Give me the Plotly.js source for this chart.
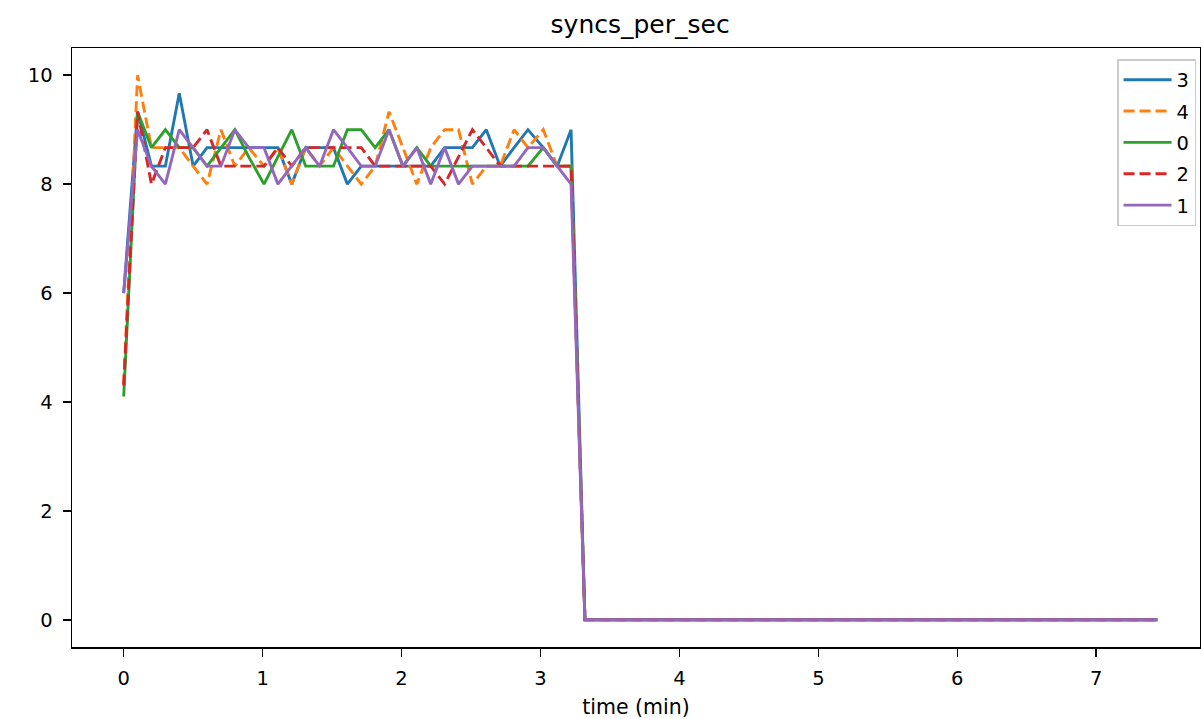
<!DOCTYPE html>
<html>
<head>
<meta charset="utf-8">
<script src="https://cdn.plot.ly/plotly-3.0.1.min.js"></script>
<style>html,body{margin:0;padding:0;background:#fff;}#chart{width:1201px;height:719px;}</style>
</head>
<body>
<div id="chart"></div>
<script>
// sample times (minutes)
const times = [0.00,0.10,0.20,0.30,0.40,0.50,0.60,0.70,0.80,0.90,1.01,1.11,1.21,1.31,1.41,1.51,1.61,1.71,1.81,1.91,
  2.01,2.11,2.21,2.31,2.41,2.51,2.61,2.71,2.81,2.91,3.02,3.12,3.22,3.32,3.42,3.52,3.62,3.72,3.82,3.92,
  4.02,4.12,4.22,4.32,4.42,4.52,4.62,4.72,4.82,4.92,5.03,5.13,5.23,5.33,5.43,5.53,5.63,5.73,5.83,5.93,
  6.03,6.13,6.23,6.33,6.43,6.53,6.63,6.73,6.83,6.93,7.04,7.14,7.24,7.34,7.44];

const series3 = [6,9.33,8.33,8.33,9.67,8.33,8.67,8.67,8.67,8.67,8.67,8.67,8,8.67,8.67,8.67,8,8.33,8.33,8.33,
  8.33,8.33,8.33,8.67,8.67,8.67,9,8.33,8.67,9,8.67,8.33,9,
  0,0,0,0,0,0,0,0,0,0,0,0,0,0,0,0,0,0,0,0,0,0,0,0,0,0,0,0,0,0,0,0,0,0,0,0,0,0,0,0,0,0];
const series4 = [4.33,10,8.67,8.67,8.67,8.33,8,9,8.33,8.67,8.33,8.67,8,8.67,8.33,8.67,8.33,8,8.33,9.33,
  8.67,8,8.67,9,9,8,8.33,8.33,9,8.67,9,8.33,8.33,
  0,0,0,0,0,0,0,0,0,0,0,0,0,0,0,0,0,0,0,0,0,0,0,0,0,0,0,0,0,0,0,0,0,0,0,0,0,0,0,0,0,0];
const series0 = [4.1,9.33,8.67,9,8.67,8.67,8.33,8.67,9,8.5,8,8.5,9,8.33,8.33,8.33,9,9,8.67,9,
  8.33,8.67,8.33,8.33,8.33,8.33,8.33,8.33,8.33,8.33,8.67,8.33,8.33,
  0,0,0,0,0,0,0,0,0,0,0,0,0,0,0,0,0,0,0,0,0,0,0,0,0,0,0,0,0,0,0,0,0,0,0,0,0,0,0,0,0,0];
const series2 = [4.3,9.33,8,8.67,8.67,8.67,9,8.33,8.33,8.33,8.33,8.67,8.33,8.67,8.67,8.67,8.67,8.67,8.33,8.33,
  8.33,8.33,8.33,8,8.5,9,8.67,8.33,8.33,8.33,8.33,8.33,8.33,
  0,0,0,0,0,0,0,0,0,0,0,0,0,0,0,0,0,0,0,0,0,0,0,0,0,0,0,0,0,0,0,0,0,0,0,0,0,0,0,0,0,0];
const series1 = [6,9,8.33,8,9,8.67,8.33,8.33,9,8.67,8.67,8,8.33,8.67,8.33,9,8.67,8.33,8.33,9,
  8.33,8.67,8,8.67,8,8.33,8.33,8.33,8.33,8.67,8.67,8.33,8,
  0,0,0,0,0,0,0,0,0,0,0,0,0,0,0,0,0,0,0,0,0,0,0,0,0,0,0,0,0,0,0,0,0,0,0,0,0,0,0,0,0,0];

const seriesNames = ['3','4','0','2','1'];
const seriesValues = [series3, series4, series0, series2, series1];
const seriesColors = ['#1f77b4','#ff7f0e','#2ca02c','#d62728','#9467bd'];
const seriesDash = ['solid','11px,5px','solid','11px,5px','solid'];

const xTicks = [0,1,2,3,4,5,6,7];
const yTicks = [0,2,4,6,8,10];

const FONT = 'DejaVu Sans, Liberation Sans, sans-serif';

const traces = seriesNames.map((n, i) => ({
  type: 'scatter', mode: 'lines', name: n, legendgroup: 'g' + n,
  x: times, y: seriesValues[i],
  line: {color: seriesColors[i], width: 2.9, dash: seriesDash[i]},
  hoverinfo: 'skip'
}));

const axisCommon = {
  showgrid: false, zeroline: false, showline: true, linecolor: '#000', linewidth: 1.5,
  mirror: true, ticks: 'outside', ticklen: 8, tickwidth: 1.5, tickcolor: '#000',
  tickfont: {family: FONT, size: 19.5, color: '#000'}
};

const layout = {
  width: 1201, height: 719,
  paper_bgcolor: '#fff', plot_bgcolor: '#fff',
  margin: {l: 72, r: 1, t: 48, b: 72, pad: 0},
  font: {family: FONT, color: '#000'},
  title: {text: 'syncs_per_sec', font: {family: FONT, size: 25, color: '#000'},
          x: 0.533, xref: 'container', xanchor: 'center', y: 1 - 24/719, yref: 'container', yanchor: 'middle'},
  xaxis: Object.assign({}, axisCommon, {
    range: [-0.372, 7.747], tickvals: xTicks, ticktext: xTicks.map(String), ticklabelstandoff: 5,
    title: {text: 'time (min)', font: {family: FONT, size: 20.5, color: '#000'}, standoff: 10}
  }),
  yaxis: Object.assign({}, axisCommon, {
    range: [-0.5, 10.5], tickvals: yTicks, ticktext: yTicks.map(String), ticklabelstandoff: 6
  }),
  showlegend: true,
  legend: {
    x: 0.9965, xanchor: 'right', y: 0.9816, yanchor: 'top',
    bgcolor: 'rgba(255,255,255,0.8)', bordercolor: '#cccccc', borderwidth: 1.5,
    font: {family: FONT, size: 19.5, color: '#000'}, traceorder: 'grouped',
    tracegroupgap: 3, itemwidth: 48
  }
};

Plotly.newPlot('chart', traces, layout, {displayModeBar: false, staticPlot: true});
</script>
</body>
</html>
